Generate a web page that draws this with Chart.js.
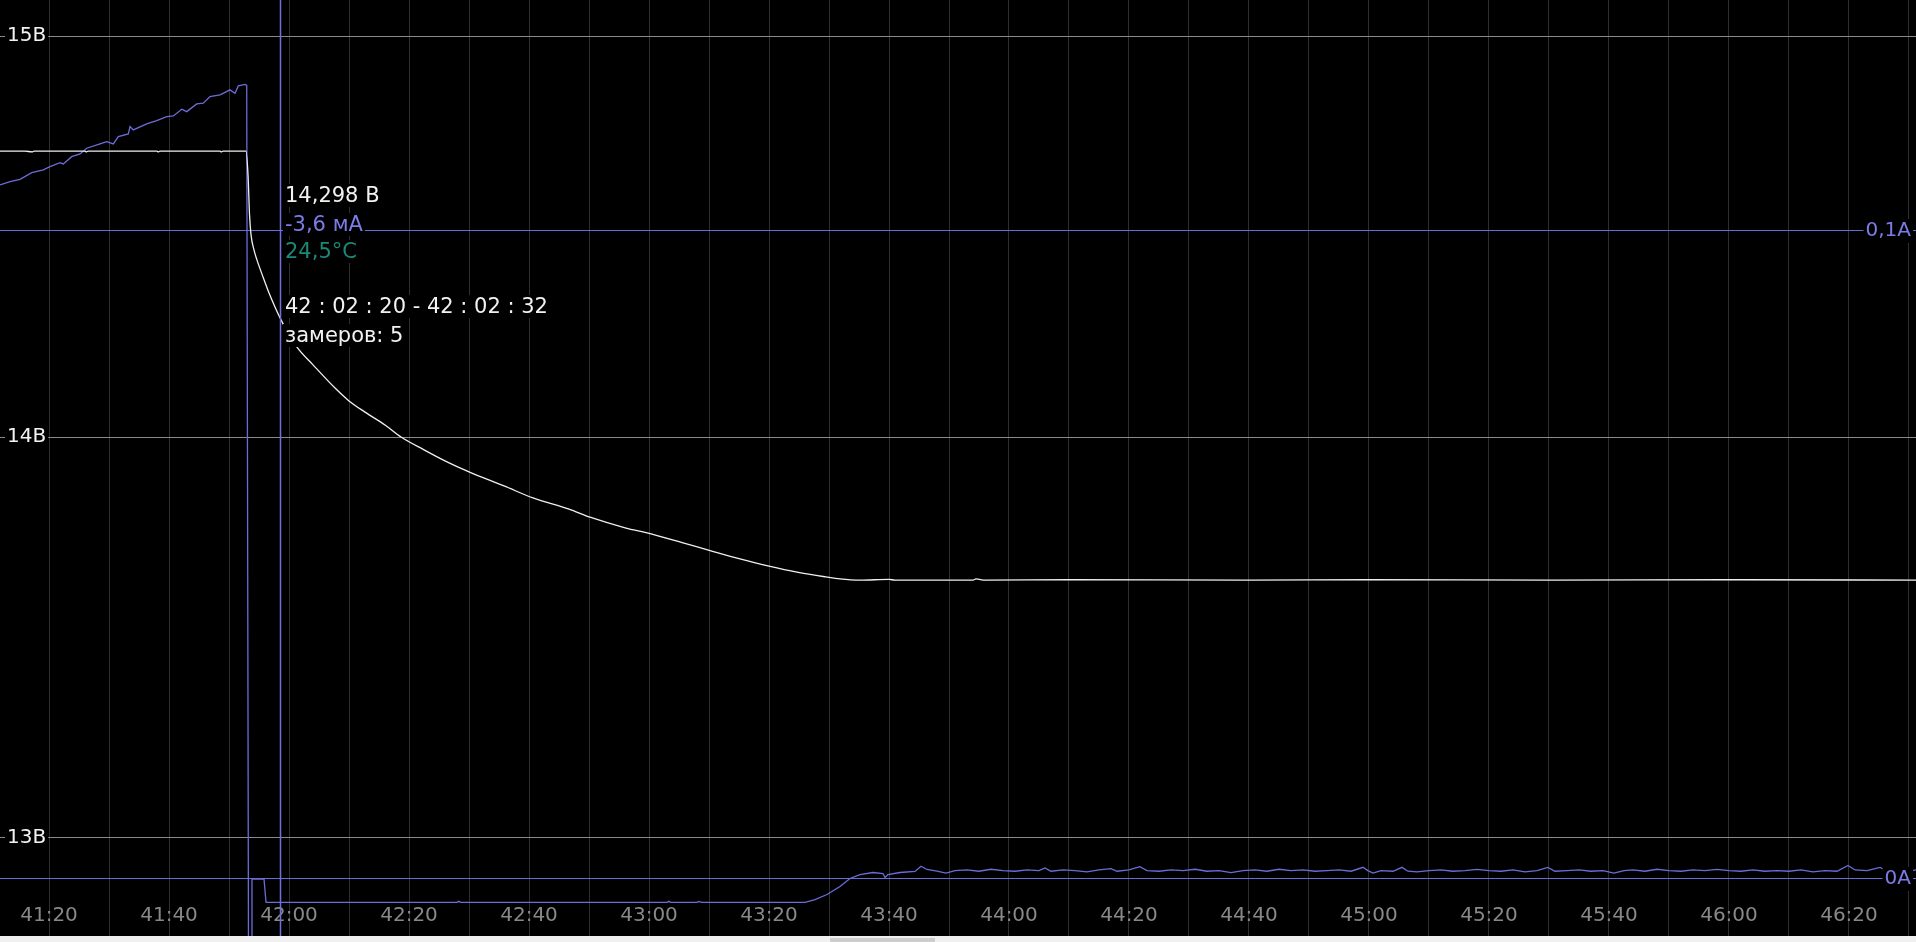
<!DOCTYPE html>
<html>
<head>
<meta charset="utf-8">
<title>Разряд</title>
<script src="https://cdn.jsdelivr.net/npm/chart.js@4.4.1/dist/chart.umd.min.js"></script>
<style>
    html, body { margin: 0; padding: 0; background: #000; overflow: hidden; }
    #wrapper-chart { position: relative; width: 1916px; height: 936px; background: #000; }
    #scroll { position: relative; width: 1916px; height: 6px; background: #f0f0f0; }
    #thumb { position: absolute; left: 830px; top: 2px; width: 105px; height: 4px; background: #cdcdcd; }
</style>
</head>
<body>
<div id="wrapper-chart"><canvas id="chartLog"></canvas></div>
<div id="scroll"><div id="thumb"></div></div>
<script>
// подписи оси времени (часы:минуты)
const timeLabels = ['41:20', '41:40', '42:00', '42:20', '42:40', '43:00', '43:20', '43:40',
    '44:00', '44:20', '44:40', '45:00', '45:20', '45:40', '46:00', '46:20'];
const voltTicks = [13, 14, 15];
const ampTicks = [0, 0.1];

// напряжение, В (время в минутах)
const voltTime = [2471.83, 2476.0, 2477.2, 2477.5, 2486.0, 2486.2, 2486.5, 2498.0, 2498.2, 2498.5,
    2508.5, 2508.7, 2509.0, 2512.83, 2513.17, 2513.42, 2513.67, 2514.17, 2514.67, 2515.67,
    2516.67, 2518.67, 2521.33, 2524.0, 2527.67, 2530.0, 2532.67, 2536.0, 2538.67, 2542.5,
    2546.33, 2550.0, 2555.83, 2560.67, 2566.67, 2570.17, 2576.17, 2579.67, 2585.67, 2590.33,
    2595.17, 2600.0, 2604.67, 2609.5, 2611.83, 2615.17, 2620.0, 2621.0, 2634.0, 2634.5,
    2636.0, 2650.0, 2680.0, 2700.0, 2730.0, 2760.0, 2791.17];
const voltValue = [14.713, 14.713, 14.711, 14.713, 14.713, 14.711, 14.713, 14.713, 14.711, 14.713,
    14.713, 14.711, 14.713, 14.713, 14.653, 14.554, 14.504, 14.466, 14.441, 14.399,
    14.359, 14.292, 14.224, 14.180, 14.122, 14.090, 14.062, 14.030, 14.000, 13.968,
    13.938, 13.913, 13.878, 13.848, 13.820, 13.800, 13.773, 13.761, 13.736, 13.716,
    13.696, 13.678, 13.663, 13.651, 13.646, 13.643, 13.645, 13.643, 13.643, 13.646,
    13.643, 13.644, 13.643, 13.644, 13.643, 13.644, 13.643];

// ток, мА
const ampTime = [2471.83, 2473.5, 2475.17, 2477.12, 2479.05, 2480.17, 2481.83, 2482.38, 2483.78, 2485.17,
    2486.28, 2488.5, 2489.62, 2490.72, 2491.55, 2493.22, 2493.5, 2494.05, 2496.28, 2497.95,
    2499.62, 2500.72, 2502.12, 2502.95, 2504.62, 2505.72, 2506.83, 2508.5, 2510.17, 2511.0,
    2511.55, 2512.67, 2512.95, 2513.25, 2513.75, 2513.83, 2515.83, 2516.17, 2530.0, 2548.0,
    2548.3, 2548.6, 2560.0, 2583.0, 2583.3, 2583.6, 2588.0, 2588.3, 2588.8, 2606.0,
    2607.67, 2609.67, 2611.83, 2613.5, 2615.17, 2617.33, 2619.0, 2619.33, 2619.83, 2621.83,
    2624.33, 2625.33, 2626.33, 2628, 2629.5, 2631, 2633, 2635, 2637, 2639,
    2641, 2643, 2645, 2646, 2647, 2649, 2651, 2653, 2655, 2657,
    2658, 2660, 2661.8, 2663, 2665, 2667, 2669, 2671, 2673, 2675,
    2677, 2679, 2681, 2683, 2685, 2687, 2689, 2691, 2693, 2695,
    2697, 2699.0, 2699.8, 2700.67, 2702, 2704, 2705.5, 2706.5, 2708, 2710,
    2712, 2714, 2716, 2718, 2720, 2722, 2724, 2726, 2728, 2729.83,
    2731, 2733, 2735, 2737, 2739, 2740.83, 2742.5, 2744, 2746, 2748,
    2750, 2752, 2754, 2756, 2758, 2760, 2762, 2764, 2766, 2768,
    2770, 2772, 2774, 2776, 2778, 2779.83, 2781, 2783, 2785.17, 2786.5,
    2788, 2790, 2791.17];
const ampValue = [107.10, 107.61, 107.98, 109.00, 109.42, 109.93, 110.55, 110.35, 111.47, 111.89,
    112.77, 113.44, 113.79, 113.44, 114.56, 114.98, 116.11, 115.60, 116.53, 117.03,
    117.65, 117.76, 118.80, 118.42, 119.61, 119.72, 120.74, 121.00, 121.78, 121.27,
    122.39, 122.63, 122.47, -12, -12, 0, 0, -3.6, -3.6, -3.6,
    -3.45, -3.6, -3.6, -3.6, -3.45, -3.6, -3.6, -3.45, -3.6, -3.6,
    -3.17, -2.39, -1.16, 0.08, 0.69, 1.0, 0.85, 0.23, 0.69, 1.0,
    1.16, 1.98, 1.47, 1.2, 0.9, 1.3, 1.4, 1.2, 1.5, 1.3,
    1.2, 1.4, 1.3, 1.7, 1.2, 1.4, 1.3, 1.1, 1.4, 1.6,
    1.2, 1.4, 1.9, 1.3, 1.2, 1.4, 1.3, 1.5, 1.2, 1.3,
    1.0, 1.3, 1.4, 1.2, 1.5, 1.3, 1.4, 1.2, 1.3, 1.4,
    1.2, 1.8, 1.3, 0.9, 1.3, 1.2, 1.8, 1.2, 1.1, 1.3,
    1.4, 1.2, 1.3, 1.5, 1.3, 1.2, 1.4, 1.1, 1.3, 1.8,
    1.2, 1.3, 1.4, 1.2, 1.3, 0.9, 1.3, 1.4, 1.2, 1.5,
    1.3, 1.2, 1.4, 1.3, 1.5, 1.3, 1.2, 1.4, 1.2, 1.3,
    1.2, 1.4, 1.1, 1.3, 1.2, 2.1, 1.4, 1.3, 1.8, 1.2,
    1.3, 1.2, 1.4];

// положение курсора и его подписи
const cursorTime = 2518.5;
const readout = ['14,298 В', '-3,6 мА', '24,5°C', '42 : 02 : 20 - 42 : 02 : 32', 'замеров: 5'];
const readoutColors = ['#f2f2f2', '#7c7ce8', '#1a8a78', '#f2f2f2', '#f2f2f2'];
const readoutY = [202, 231, 258, 313, 342];

const FONT = 'DejaVu Sans';
const BLUE = '#6c6cd8';

function toMinutes(s) {
    let p = s.split(':');
    return Number(p[0]) * 60 + Number(p[1]);
}

let voltData = voltTime.map((t, i) => ({ x: t, y: voltValue[i] }));
let ampData = ampTime.map((t, i) => ({ x: t, y: ampValue[i] / 1000 }));

const cursorPlugin = {
    id: 'cursor',
    afterDatasetsDraw(chart) {
        const { ctx, chartArea, scales } = chart;
        let x = Math.round(scales.x.getPixelForValue(cursorTime)) + 0.5;
        ctx.save();
        ctx.strokeStyle = '#7070e0';
        ctx.lineWidth = 1.5;
        ctx.beginPath();
        ctx.moveTo(x, chartArea.top);
        ctx.lineTo(x, chartArea.bottom);
        ctx.stroke();
        ctx.restore();
    },
    afterDraw(chart) {
        const { ctx, scales } = chart;
        let x = Math.round(scales.x.getPixelForValue(cursorTime)) + 5;
        ctx.save();
        ctx.font = '21px "' + FONT + '"';
        ctx.textBaseline = 'alphabetic';
        readout.forEach((txt, i) => {
            let w = ctx.measureText(txt).width;
            ctx.fillStyle = '#000';
            ctx.fillRect(x - 2, readoutY[i] - 18, w + 4, 23);
            ctx.fillStyle = readoutColors[i];
            ctx.fillText(txt, x, readoutY[i]);
        });
        ctx.restore();
    }
};

let logChart = new Chart(document.getElementById('chartLog'), {
    type: 'line',
    data: {
        datasets: [{
            label: 'Напряжение',
            data: voltData,
            yAxisID: 'y',
            borderColor: '#f0f0f0',
            borderWidth: 1.3,
            pointRadius: 0,
            cubicInterpolationMode: 'monotone'
        }, {
            label: 'Ток',
            data: ampData,
            yAxisID: 'y2',
            borderColor: BLUE,
            borderWidth: 1.3,
            pointRadius: 0,
            tension: 0
        }]
    },
    options: {
        animation: false,
        responsive: true,
        maintainAspectRatio: false,
        events: [],
        layout: { padding: 0, autoPadding: false },
        plugins: {
            legend: { display: false },
            tooltip: { enabled: false }
        },
        scales: {
            x: {
                type: 'linear',
                min: 2471.83,
                max: 2791.17,
                afterBuildTicks: (scale) => {
                    let t = [];
                    timeLabels.forEach((l) => {
                        let m = toMinutes(l);
                        t.push({ value: m }, { value: m + 10 });
                    });
                    scale.ticks = t;
                },
                afterFit: (scale) => {
                    scale.height = 0;
                    scale.paddingLeft = 0;
                    scale.paddingRight = 0;
                },
                grid: { color: '#2f2f2f', lineWidth: 1, drawTicks: false },
                border: { display: false },
                ticks: {
                    mirror: true,
                    padding: 0,
                    autoSkip: false,
                    maxRotation: 0,
                    minRotation: 0,
                    color: '#888888',
                    font: { family: FONT, size: 20, lineHeight: 2.05 },
                    callback: (v) => {
                        let i = timeLabels.findIndex((l) => toMinutes(l) === v);
                        return i >= 0 ? timeLabels[i] : '';
                    }
                }
            },
            y: {
                type: 'linear',
                position: 'left',
                min: 12.7556,
                max: 15.0898,
                afterBuildTicks: (scale) => {
                    scale.ticks = voltTicks.map((v) => ({ value: v }));
                },
                afterFit: (scale) => {
                    scale.width = 0;
                    scale.paddingTop = 0;
                    scale.paddingBottom = 0;
                },
                grid: { color: '#8a8a8a', lineWidth: 1, drawTicks: false },
                border: { display: false },
                ticks: {
                    mirror: true,
                    padding: 7,
                    color: '#f2f2f2',
                    font: { family: FONT, size: 20 },
                    showLabelBackdrop: true,
                    backdropColor: '#000',
                    backdropPadding: { left: 2, right: 2, top: 0, bottom: 0 },
                    callback: (v) => v + 'В'
                }
            },
            y2: {
                type: 'linear',
                position: 'right',
                min: -0.0087963,
                max: 0.1356481,
                afterBuildTicks: (scale) => {
                    scale.ticks = ampTicks.map((v) => ({ value: v }));
                },
                afterFit: (scale) => {
                    scale.width = 0;
                    scale.paddingTop = 0;
                    scale.paddingBottom = 0;
                },
                grid: { color: BLUE, lineWidth: 1, drawTicks: false },
                border: { display: false },
                ticks: {
                    mirror: true,
                    padding: -5,
                    z: 1,
                    color: '#7c7ce8',
                    font: { family: FONT, size: 20 },
                    showLabelBackdrop: true,
                    backdropColor: '#000',
                    backdropPadding: { left: 2, right: 2, top: 0, bottom: 0 },
                    callback: (v) => String(v).replace('.', ',') + 'А'
                }
            }
        }
    },
    plugins: [cursorPlugin]
});
</script>
</body>
</html>
